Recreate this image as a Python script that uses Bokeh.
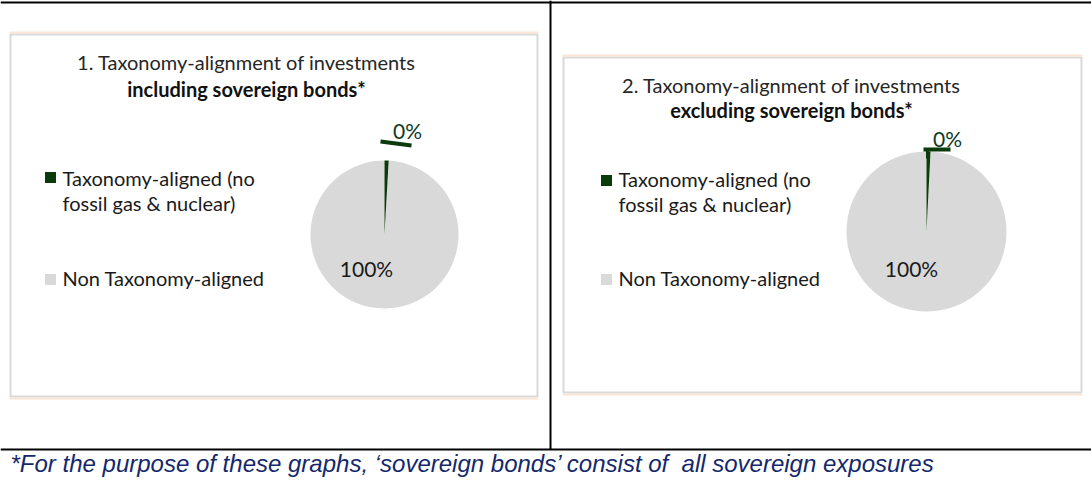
import math
from bokeh.plotting import figure
from bokeh.models import Range1d, ColumnDataSource
from bokeh.core.properties import value
from bokeh.embed import file_html
from bokeh.resources import INLINE

# ---------------- data ----------------
categories = ["Taxonomy-aligned (no\nfossil gas & nuclear)", "Non Taxonomy-aligned"]
incl_values = [0.9, 99.1]          # % including sovereign bonds
excl_values = [0.8, 99.2]          # % excluding sovereign bonds
incl_labels = ["0%", "100%"]
excl_labels = ["0%", "100%"]
titles_line1 = ["1. Taxonomy-alignment of investments", "2. Taxonomy-alignment of investments"]
titles_line2 = ["including sovereign bonds*", "excluding sovereign bonds*"]
footnote = "*For the purpose of these graphs, \u2018sovereign bonds\u2019 consist of\u00a0 all sovereign exposures"

# ---------------- styles ----------------
colors = ["#0B3A0B", "#D9D9D9"]
W, H = 1091, 502
FONT = "Lato"
FS = "20px"

p = figure(width=W, height=H, x_range=Range1d(0, W), y_range=Range1d(0, H),
           output_backend="svg", toolbar_location=None, min_border=0,
           x_axis_location=None, y_axis_location=None)
p.grid.visible = False
p.outline_line_color = None
p.background_fill_color = "white"
p.border_fill_color = "white"


def Y(py):
    return H - py


# table lines
p.segment(x0=[0, 0, 550], y0=[Y(2), Y(449), Y(0)], x1=[W, W, 550], y1=[Y(2), Y(449), Y(449)],
          line_color="black", line_width=2)

# chart boxes
boxes = [(10, 537, 34, 396), (563, 1081, 57, 392)]
for (l, r, t, b) in boxes:
    p.quad(left=[l], right=[r], top=[Y(t)], bottom=[Y(b)], fill_color="white",
           line_color="#D9D9D9", line_width=2)
    p.segment(x0=[l - 1, l - 1], y0=[Y(t - 2), Y(b + 2)], x1=[r + 1, r + 1], y1=[Y(t - 2), Y(b + 2)],
              line_color="#FBE5D6", line_width=2)

panels = [
    dict(vals=incl_values, labels=incl_labels, cx=384, cy=234, r=74,
         tx=246, ty1=61, ty2=88, lx=50, ltx=62, ly=[177, 279], lty=[190, 277],
         lab_pos=[(407, 130), (366, 268)]),
    dict(vals=excl_values, labels=excl_labels, cx=926, cy=231, r=80,
         tx=791, ty1=84, ty2=109, lx=606, ltx=618, ly=[180, 279], lty=[191, 277],
         lab_pos=[(947, 138), (911, 268)]),
]

for i, pn in enumerate(panels):
    total = sum(pn["vals"])
    starts, ends, cum = [], [], 0.0
    for v in pn["vals"]:
        starts.append(math.pi / 2 - 2 * math.pi * cum / total)
        cum += v
        ends.append(math.pi / 2 - 2 * math.pi * cum / total)
    data = dict(start=starts, end=ends, color=colors,
                x=[pn["cx"]] * 2, y=[Y(pn["cy"])] * 2)
    # draw grey first then green on top
    src_grey = ColumnDataSource({k: v[1:] for k, v in data.items()})
    src_green = ColumnDataSource({k: v[:1] for k, v in data.items()})
    for s in (src_grey, src_green):
        p.wedge(x="x", y="y", radius=pn["r"], radius_units="screen", start_angle="start",
                end_angle="end", direction="clock", fill_color="color", line_color=None, source=s)

    # titles
    p.text(x=[pn["tx"]], y=[Y(pn["ty1"])], text=[titles_line1[i]], text_font=value(FONT),
           text_font_size=FS, text_align="center", text_baseline="middle", text_color="#262626")
    p.text(x=[pn["tx"]], y=[Y(pn["ty2"])], text=[titles_line2[i]], text_font=value(FONT),
           text_font_size=FS, text_font_style="bold", text_align="center",
           text_baseline="middle", text_color="#111111")

    # legend
    p.scatter(x=[pn["lx"]] * 2, y=[Y(v) for v in pn["ly"]], marker="square", size=11,
              fill_color=colors, line_color=None)
    p.text(x=[pn["ltx"]] * 2, y=[Y(v) for v in pn["lty"]], text=categories, text_font=value(FONT),
           text_font_size=FS, text_align="left", text_baseline="middle",
           text_line_height=1.05, text_color="#1a1a1a")

    # data labels
    p.text(x=[q[0] for q in pn["lab_pos"]], y=[Y(q[1]) for q in pn["lab_pos"]], text=pn["labels"],
           text_font=value(FONT), text_font_size="21px", text_align="center",
           text_baseline="middle", text_color=["#0E3B1E", "#1a1a1a"])

# leader marks for the small slices
p.segment(x0=[380], y0=[Y(141)], x1=[411], y1=[Y(145)], line_color=colors[0], line_width=4)
p.segment(x0=[923, 927], y0=[Y(149), Y(149)], x1=[950, 927], y1=[Y(149), Y(158)],
          line_color=colors[0], line_width=[4, 3])

# footnote
p.text(x=[10], y=[Y(463)], text=[footnote], text_font=value("Liberation Sans"),
       text_font_size="24px", text_font_style="italic", text_align="left",
       text_baseline="middle", text_color="#14286B")

open("out.html", "w").write(file_html(p, INLINE))
